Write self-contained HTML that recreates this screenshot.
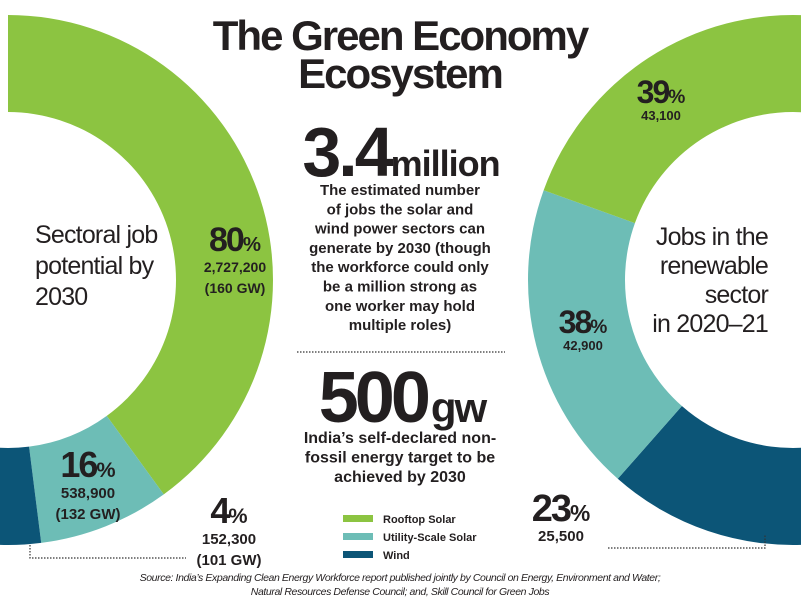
<!DOCTYPE html>
<html><head><meta charset="utf-8">
<style>
body{margin:0;background:#fff;}
#wrap{position:relative;width:801px;height:608px;overflow:hidden;font-family:"Liberation Sans",sans-serif;color:#231f20;}
svg{position:absolute;left:0;top:0;}
</style></head>
<body>
<div id="wrap">
<svg id="chart" width="801" height="608" viewBox="0 0 801 608"></svg>
</div>
<script>
const categories = ["Rooftop Solar", "Utility-Scale Solar", "Wind"];
const sectoralShares = [80, 16, 4];
const sectoralJobs = ["2,727,200", "538,900", "152,300"];
const sectoralGW = ["(160 GW)", "(132 GW)", "(101 GW)"];
const jobShares = [39, 38, 23];
const jobCounts = ["43,100", "42,900", "25,500"];
const colors = ["#8cc441", "#6dbdb6", "#0c5577"];

const NS = "http://www.w3.org/2000/svg";
const svg = document.getElementById("chart");
function mk(tag, attrs, parent){const e=document.createElementNS(NS,tag);for(const k in attrs)e.setAttribute(k,attrs[k]);(parent||svg).appendChild(e);return e;}
// semicircle scale: 100% -> 180 degrees
function angleScale(p){return p/100*180;}
function pt(cx,cy,r,a){const t=a*Math.PI/180;return [cx+r*Math.cos(t),cy+r*Math.sin(t)];}
function arc(cx,cy,R,r,a0,a1){
  const lg=Math.abs(a1-a0)>180?1:0, sw=a1>a0?1:0;
  const p0=pt(cx,cy,R,a0),p1=pt(cx,cy,R,a1),q1=pt(cx,cy,r,a1),q0=pt(cx,cy,r,a0);
  return `M${p0[0]},${p0[1]}A${R},${R} 0 ${lg} ${sw} ${p1[0]},${p1[1]}L${q1[0]},${q1[1]}A${r},${r} 0 ${lg} ${1-sw} ${q0[0]},${q0[1]}Z`;
}
// left donut: starts at top (-90) going clockwise
(function(){
  const cx=8,cy=280,R=265,r=168;let a=-90;
  sectoralShares.forEach((v,i)=>{
    let a0=a,a1=a+angleScale(v);a=a1;
    if(i===sectoralShares.length-1)a1+=4;
    const p=mk("path",{d:arc(cx,cy,R,r,a0,a1),fill:colors[i]});
    
    
  });
})();
// right donut: from bottom (90) clockwise through left to top
(function(){
  const cx=793,cy=280,R=265,r=168;let a=90;
  const order=[2,1,0];
  order.forEach((i,k)=>{
    let a0=a,a1=a+angleScale(jobShares[i]);a=a1;
    if(k===0)a0-=4;
    if(k===order.length-1)a1+=4;
    const p=mk("path",{d:arc(cx,cy,R,r,a0,a1),fill:colors[i]});
    
    
  });
})();
function txt(x,y,s,size,weight,anchor,name,extra){
  const t=mk("text",Object.assign({x:x,y:y,"font-size":size,"font-weight":weight,"text-anchor":anchor||"start",fill:"#231f20","font-family":"Liberation Sans, sans-serif"},extra||{}));
  t.textContent=s;
  
  
  return t;
}
function pct(x,y,v,size,name){
  const t=txt(x,y,"",size,"bold","middle",name,{"letter-spacing":"-2"});
  const a=mk("tspan",{},t);a.textContent=v;
  const b=mk("tspan",{"font-size":size*0.6,"letter-spacing":"0"},t);b.textContent="%";
}
// left labels
const lx=[235,88,229], ly=[251,477,523];
sectoralShares.forEach((v,i)=>{
  pct(lx[i],ly[i],v,i===0?34:36,"sectoral-pct-"+(i+1));
  txt(lx[i],ly[i]+21,sectoralJobs[i],i===0?14:15,"bold","middle","sectoral-jobs-"+(i+1));
  txt(lx[i],ly[i]+42,sectoralGW[i],i===0?14:15,"bold","middle","sectoral-gw-"+(i+1));
});
// right labels
const rx=[661,583,561], ry=[103,333,521];
jobShares.forEach((v,i)=>{
  pct(rx[i],ry[i],v,i===2?38:32,"jobs-pct-"+(i+1));
  txt(rx[i],ry[i]+(i===2?20:17),jobCounts[i],i===2?15:13,"bold","middle","jobs-count-"+(i+1));
});
// donut centre captions
["Sectoral job","potential by","2030"].forEach((s,i)=>txt(35,243+31*i,s,25,"normal","start","sectoral-caption-line",{"letter-spacing":"-0.8"}));
["Jobs in the","renewable","sector","in 2020\u201321"].forEach((s,i)=>txt(768,245+29*i,s,25,"normal","end","jobs-caption-line",{"letter-spacing":"-0.8"}));
// title
txt(400,50,"The Green Economy",42,"bold","middle","title-line-1",{"letter-spacing":"-2"});
txt(400,88,"Ecosystem",42,"bold","middle","title-line-2",{"letter-spacing":"-2"});
// 3.4 million
(function(){const t=txt(401,176,"",70,"bold","middle","stat-3-4-million",{"letter-spacing":"-3"});
 const a=mk("tspan",{},t);a.textContent="3.4";const b=mk("tspan",{"font-size":36,"letter-spacing":"-1"},t);b.textContent="million";})();
["The estimated number","of jobs the solar and","wind power sectors can","generate by 2030 (though","the workforce could only","be a million strong as","one worker may hold","multiple roles)"].forEach((s,i)=>txt(400,195+19.3*i,s,15,"bold","middle","stat-description-line"));
mk("line",{x1:297,y1:352,x2:505,y2:352,stroke:"#333","stroke-width":1.3,"stroke-dasharray":"1.5 1.5"});
(function(){const t=txt(402,422,"",72,"bold","middle","stat-500-gw",{"letter-spacing":"-4"});
 const a=mk("tspan",{},t);a.textContent="500";const b=mk("tspan",{"font-size":42,"letter-spacing":"-2","dx":4},t);b.textContent="gw";})();
["India\u2019s self-declared non-","fossil energy target to be","achieved by 2030"].forEach((s,i)=>txt(400,443+19.5*i,s,16,"bold","middle","target-description-line"));
// legend
categories.forEach((c,i)=>{
  const r=mk("rect",{x:343,y:515+18*i,width:30,height:7,fill:colors[i]});
  
  
  txt(383,523+18*i,c,11,"bold","start","legend-entry-"+(i+1));
});
// dotted leaders
mk("path",{d:"M30,545V558H186",fill:"none",stroke:"#333","stroke-width":1.2,"stroke-dasharray":"1.5 1.5"});
mk("path",{d:"M608,548H765V535",fill:"none",stroke:"#333","stroke-width":1.2,"stroke-dasharray":"1.5 1.5"});
// source
(function(){const t=txt(400,581,"",10.5,"normal","middle","source-line-1",{"font-style":"italic","letter-spacing":"-0.4"});
 const a=mk("tspan",{},t);a.textContent="Source: ";const b=mk("tspan",{},t);b.textContent="India\u2019s Expanding Clean Energy Workforce report published jointly by Council on Energy, Environment and Water;";})();
txt(400,595,"Natural Resources Defense Council; and, Skill Council for Green Jobs",10.5,"normal","middle","source-line-2",{"font-style":"italic","letter-spacing":"-0.4"});
</script>
</body></html>
